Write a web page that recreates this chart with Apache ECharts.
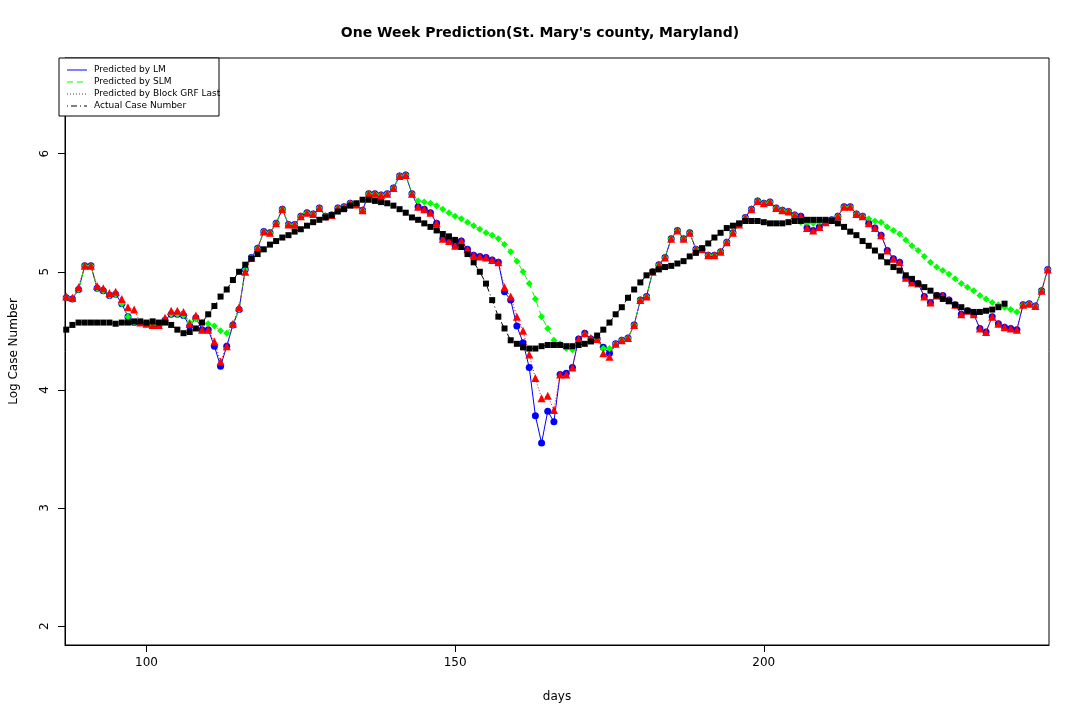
<!DOCTYPE html>
<html>
<head>
<meta charset="utf-8">
<script src="https://cdn.jsdelivr.net/npm/echarts@6/dist/echarts.min.js"></script>
<style>html,body{margin:0;padding:0;background:#fff}#main{width:1080px;height:720px}</style>
</head>
<body>
<div id="main"></div>
<script>
// first day of every series
var firstDay = 87;
var xTicks = [100, 150, 200];
var yTicks = [2, 3, 4, 5, 6];

var lm = [
  4.78,4.77,4.85,5.05,5.05,4.86,4.84,4.80,4.81,4.73,
  4.62,4.57,4.57,4.56,4.55,4.55,4.59,4.64,4.64,4.63,
  4.54,4.61,4.51,4.51,4.37,4.20,4.37,4.55,4.68,5.02,
  5.12,5.20,5.34,5.33,5.41,5.53,5.40,5.40,5.47,5.50,
  5.49,5.54,5.47,5.48,5.54,5.55,5.58,5.57,5.52,5.66,
  5.66,5.65,5.66,5.71,5.81,5.82,5.66,5.55,5.53,5.50,
  5.41,5.28,5.26,5.22,5.26,5.19,5.14,5.13,5.12,5.10,
  5.08,4.83,4.76,4.54,4.40,4.19,3.78,3.55,3.82,3.73,
  4.13,4.14,4.19,4.43,4.48,4.43,4.43,4.36,4.31,4.39,
  4.42,4.44,4.55,4.76,4.79,5.00,5.06,5.12,5.28,5.35,
  5.28,5.33,5.19,5.19,5.14,5.14,5.17,5.25,5.33,5.40,
  5.46,5.53,5.60,5.58,5.59,5.54,5.52,5.51,5.48,5.47,
  5.37,5.35,5.38,5.42,5.44,5.47,5.55,5.55,5.49,5.47,
  5.41,5.37,5.31,5.18,5.11,5.08,4.95,4.91,4.90,4.79,
  4.74,4.80,4.80,4.76,4.72,4.64,4.67,4.64,4.52,4.49,
  4.62,4.56,4.53,4.52,4.51,4.72,4.73,4.71,4.84,5.02
];

var slm = [
  4.78,4.77,4.85,5.05,5.05,4.86,4.84,4.80,4.81,4.73,
  4.62,4.57,4.57,4.56,4.55,4.55,4.59,4.64,4.64,4.63,
  4.57,4.60,4.57,4.56,4.54,4.50,4.48,4.55,4.68,5.02,
  5.12,5.20,5.34,5.33,5.41,5.53,5.40,5.40,5.47,5.50,
  5.49,5.54,5.47,5.48,5.54,5.55,5.58,5.57,5.52,5.66,
  5.66,5.65,5.66,5.71,5.81,5.82,5.66,5.60,5.59,5.58,
  5.56,5.53,5.50,5.47,5.45,5.42,5.39,5.36,5.33,5.31,
  5.28,5.23,5.17,5.09,5.00,4.90,4.77,4.62,4.52,4.42,
  4.39,4.35,4.34,4.40,4.47,4.43,4.43,4.35,4.35,4.39,
  4.42,4.44,4.55,4.76,4.79,5.00,5.06,5.12,5.28,5.35,
  5.28,5.33,5.19,5.19,5.14,5.14,5.17,5.25,5.33,5.40,
  5.46,5.53,5.60,5.58,5.59,5.54,5.52,5.51,5.48,5.42,
  5.41,5.41,5.42,5.42,5.43,5.47,5.55,5.55,5.49,5.47,
  5.45,5.43,5.42,5.38,5.35,5.32,5.27,5.22,5.18,5.13,
  5.08,5.04,5.01,4.98,4.94,4.90,4.87,4.84,4.80,4.77,
  4.74,4.72,4.70,4.68,4.66,4.72,4.73,4.71,4.84,5.02
];

var grf = [
  4.79,4.78,4.87,5.05,5.05,4.88,4.86,4.82,4.83,4.77,
  4.70,4.68,4.57,4.56,4.55,4.55,4.61,4.67,4.67,4.66,
  4.56,4.63,4.51,4.51,4.41,4.24,4.37,4.56,4.70,5.00,
  5.12,5.20,5.34,5.33,5.41,5.53,5.40,5.40,5.47,5.50,
  5.49,5.54,5.47,5.48,5.54,5.55,5.58,5.57,5.52,5.66,
  5.66,5.65,5.66,5.71,5.81,5.82,5.66,5.55,5.53,5.50,
  5.41,5.28,5.26,5.22,5.26,5.19,5.14,5.13,5.12,5.10,
  5.08,4.87,4.79,4.62,4.50,4.30,4.10,3.93,3.95,3.83,
  4.13,4.13,4.19,4.43,4.48,4.44,4.43,4.31,4.28,4.39,
  4.42,4.44,4.55,4.76,4.79,5.00,5.06,5.12,5.28,5.35,
  5.28,5.33,5.19,5.19,5.14,5.14,5.17,5.25,5.33,5.40,
  5.46,5.53,5.60,5.58,5.59,5.54,5.52,5.51,5.48,5.47,
  5.37,5.35,5.38,5.42,5.44,5.47,5.55,5.55,5.49,5.47,
  5.41,5.37,5.31,5.18,5.11,5.08,4.95,4.91,4.90,4.79,
  4.74,4.80,4.80,4.76,4.72,4.64,4.67,4.64,4.52,4.49,
  4.62,4.56,4.53,4.52,4.51,4.72,4.73,4.71,4.84,5.02
];

var actual = [
  4.51,4.55,4.57,4.57,4.57,4.57,4.57,4.57,4.56,4.57,
  4.57,4.58,4.58,4.57,4.58,4.57,4.57,4.55,4.51,4.48,
  4.49,4.52,4.57,4.64,4.71,4.79,4.85,4.93,5.00,5.06,
  5.11,5.15,5.19,5.23,5.26,5.29,5.31,5.34,5.36,5.39,
  5.42,5.44,5.46,5.48,5.51,5.53,5.56,5.58,5.61,5.61,
  5.60,5.59,5.58,5.56,5.53,5.50,5.46,5.44,5.41,5.38,
  5.35,5.32,5.30,5.27,5.21,5.15,5.08,5.00,4.90,4.76,
  4.62,4.52,4.42,4.39,4.36,4.35,4.35,4.37,4.38,4.38,
  4.38,4.37,4.37,4.38,4.39,4.41,4.46,4.51,4.57,4.64,
  4.70,4.78,4.85,4.91,4.97,5.00,5.02,5.04,5.05,5.07,
  5.09,5.13,5.16,5.20,5.24,5.29,5.33,5.37,5.39,5.41,
  5.43,5.43,5.43,5.42,5.41,5.41,5.41,5.42,5.43,5.43,
  5.44,5.44,5.44,5.44,5.43,5.41,5.38,5.34,5.31,5.26,
  5.22,5.18,5.13,5.08,5.04,5.01,4.97,4.94,4.90,4.87,
  4.84,4.80,4.77,4.75,4.72,4.70,4.67,4.66,4.66,4.67,
  4.68,4.70,4.73
];

function pairs(arr) {
    var res = [];
    for (var i = 0; i < arr.length; i++) {
        res.push([firstDay + i, arr[i]]);
    }
    return res;
}

var legendItems = [
    {name: 'Predicted by LM', color: '#0000ff', type: 'solid'},
    {name: 'Predicted by SLM', color: '#00ff00', type: [6, 4]},
    {name: 'Predicted by Block GRF Last', color: '#444444', type: [1, 2]},
    {name: 'Actual Case Number', color: '#000000', type: [1, 3, 6, 3]}
];

function legendGraphic() {
    var els = [{
        type: 'rect', shape: {x: 59, y: 58, width: 160, height: 58},
        style: {fill: '#fff', stroke: '#000', lineWidth: 1}, z: 100
    }];
    for (var i = 0; i < legendItems.length; i++) {
        var y = 70 + i * 12;
        els.push({type: 'line', shape: {x1: 67, y1: y, x2: 87, y2: y},
            style: {stroke: legendItems[i].color, lineWidth: 1, lineDash: legendItems[i].type === 'solid' ? null : legendItems[i].type}, z: 101});
        els.push({type: 'text', x: 94, y: y, style: {text: legendItems[i].name, fill: '#000',
            font: '9px "DejaVu Sans", sans-serif', verticalAlign: 'middle'}, z: 101});
    }
    return els;
}

function series(name, arr, color, symbol, size, dash) {
    return {
        name: name, type: 'line', data: pairs(arr), symbol: symbol, symbolSize: size,
        showAllSymbol: true, animation: false,
        lineStyle: {color: color, width: 1, type: dash},
        itemStyle: {color: color, borderWidth: 0}
    };
}

var chart = echarts.init(document.getElementById('main'));
chart.setOption({
    backgroundColor: '#fff',
    animation: false,
    title: {text: "One Week Prediction(St. Mary's county, Maryland)", left: 'center', top: 21,
        textStyle: {fontSize: 14, fontWeight: 'bold', color: '#000', fontFamily: 'DejaVu Sans'}},
    grid: {left: 59, right: 31, top: 58, bottom: 75, show: true, borderColor: '#000', borderWidth: 1},
    xAxis: {
        type: 'value', min: 86.8, max: 246.2,
        name: 'days', nameLocation: 'middle', nameGap: 46,
        nameTextStyle: {fontSize: 12, color: '#000', fontFamily: 'DejaVu Sans'},
        splitLine: {show: false},
        axisLine: {show: true, onZero: false, lineStyle: {color: '#000'}},
        axisTick: {show: true, length: 7, customValues: xTicks, lineStyle: {color: '#000'}},
        axisLabel: {customValues: xTicks, margin: 12, fontSize: 12, color: '#000', fontFamily: 'DejaVu Sans'}
    },
    yAxis: {
        type: 'value', min: 1.84, max: 6.81,
        name: 'Log Case Number', nameLocation: 'middle', nameGap: 45,
        nameTextStyle: {fontSize: 12, color: '#000', fontFamily: 'DejaVu Sans'},
        splitLine: {show: false},
        axisLine: {show: true, onZero: false, lineStyle: {color: '#000'}},
        axisTick: {show: true, length: 7, customValues: yTicks, lineStyle: {color: '#000'}},
        axisLabel: {customValues: yTicks, rotate: 90, margin: 14, fontSize: 12, color: '#000', fontFamily: 'DejaVu Sans'}
    },
    graphic: legendGraphic(),
    series: [
        series('Predicted by LM', lm, '#0000ff', 'circle', 7, 'solid'),
        series('Predicted by SLM', slm, '#00ff00', 'diamond', 7, [6, 4]),
        series('Predicted by Block GRF Last', grf, '#ff0000', 'triangle', 8, [1, 2]),
        series('Actual Case Number', actual, '#000000', 'rect', 6, [1, 3, 6, 3])
    ]
});
</script>
</body>
</html>
